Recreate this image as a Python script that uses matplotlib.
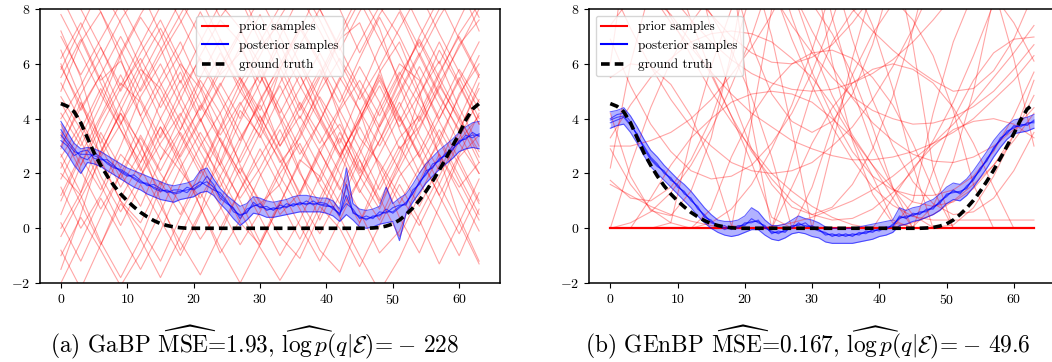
import numpy as np
import matplotlib
matplotlib.use("Agg")
import matplotlib.pyplot as plt
from matplotlib.lines import Line2D

plt.rcParams["font.family"] = "serif"
plt.rcParams["font.serif"] = ["cmr10", "DejaVu Serif"]
plt.rcParams["mathtext.fontset"] = "cm"
plt.rcParams["axes.formatter.use_mathtext"] = True

# sample grid (prior curves read every 3 steps, posterior every step)
x_prior = np.arange(0, 64, 3)
x_post = np.arange(64)

ground_truth = [4.55, 4.45, 4.25, 3.85, 3.3, 2.75, 2.3, 1.9, 1.55, 1.25, 1.0, 0.78, 0.58, 0.42, 0.28, 0.17,
                0.1, 0.05, 0.02, 0, 0, 0, 0, 0, 0, 0, 0, 0, 0, 0, 0, 0,
                0, 0, 0, 0, 0, 0, 0, 0, 0, 0, 0, 0, 0, 0, 0, 0.01,
                0.03, 0.08, 0.16, 0.3, 0.5, 0.74, 1.02, 1.35, 1.72, 2.12, 2.55, 3.0, 3.45, 3.95, 4.35, 4.55]

# (a) GaBP
prior_gabp = [
    [7.2, 5.5, 3.0, 1.5, 2.8, 4.6, 6.0, 5.1, 3.2, 2.0, 3.5, 5.8, 7.4, 6.1, 4.0, 2.2, 1.0, 2.5, 4.8, 6.5, 5.2, 3.8],
    [-1.5, 0.5, 2.8, 4.2, 3.1, 1.0, -0.8, 0.6, 2.9, 4.5, 5.6, 4.0, 2.1, 0.3, 1.8, 3.9, 5.7, 6.8, 5.0, 2.6, 0.4, -1.2],
    [5.0, 6.8, 7.9, 6.2, 4.1, 2.5, 3.6, 5.4, 4.2, 2.3, 0.9, 1.6, 3.4, 5.2, 6.9, 7.5, 5.8, 3.6, 2.0, 3.1, 4.9, 6.0],
    [2.0, 1.2, -0.5, -1.8, -0.4, 1.5, 3.2, 4.4, 5.9, 7.2, 6.0, 4.1, 2.7, 3.9, 5.5, 4.3, 2.1, 0.4, -0.9, 0.8, 2.6, 3.4],
    [4.2, 3.0, 4.5, 6.3, 7.7, 6.6, 4.8, 3.3, 1.7, 0.2, -0.6, 0.9, 2.5, 1.9, 0.6, 1.8, 3.7, 5.3, 7.0, 8.4, 6.9, 5.5],
    [0.5, 2.3, 4.0, 5.3, 4.6, 3.0, 2.1, 1.1, 2.4, 4.3, 3.4, 1.9, 0.7, -0.8, -1.6, 0.2, 2.0, 3.3, 4.1, 2.7, 1.5, 2.4],
    [6.5, 4.7, 2.6, 3.8, 5.5, 6.9, 8.3, 7.0, 5.6, 6.4, 7.8, 6.2, 4.5, 3.1, 4.4, 5.9, 4.6, 2.9, 3.7, 5.1, 6.7, 7.6],
    [3.0, 4.4, 5.6, 3.9, 2.2, 0.8, -0.5, -1.7, -0.2, 1.4, 2.6, 3.8, 5.1, 6.4, 5.0, 3.3, 2.4, 1.2, 0.1, 1.6, 3.2, 4.1],
    [1.5, 0.0, 1.2, 2.7, 1.9, 3.4, 5.0, 6.2, 4.9, 3.5, 2.0, 0.5, 1.3, 2.9, 3.8, 2.5, 0.9, 2.2, 3.6, 5.2, 4.0, 2.8],
    [8.5, 7.0, 5.4, 6.1, 4.7, 3.3, 4.7, 6.3, 7.6, 6.8, 4.9, 3.0, 4.1, 2.8, 1.4, 2.9, 4.5, 6.0, 5.4, 3.9, 2.5, 1.0],
    [-0.8, -2.2, -0.6, 1.1, 2.4, 3.7, 2.5, 0.8, -0.9, 0.3, 1.9, 3.2, 4.6, 3.4, 2.0, 0.6, -0.9, -0.1, 1.7, 0.4, -1.0, 0.7],
    [4.8, 3.6, 1.9, 0.6, 1.9, 3.1, 4.2, 2.8, 1.5, 3.1, 4.7, 5.9, 4.3, 5.6, 7.1, 8.6, 7.3, 5.2, 3.4, 2.1, 3.5, 5.3],
    [2.6, 3.8, 2.4, 1.0, 0.2, 1.7, 0.5, 2.1, 3.7, 5.3, 6.6, 7.5, 6.0, 4.4, 3.0, 1.4, 0.3, 1.9, 2.8, 4.3, 5.8, 4.6],
    [5.8, 7.3, 8.8, 7.5, 5.9, 4.4, 5.7, 4.0, 2.3, 1.1, 2.2, 3.6, 2.0, 0.9, 2.5, 4.2, 5.6, 4.0, 2.6, 1.2, -0.2, 1.3],
    [0.0, 1.3, 3.5, 2.2, 3.8, 5.2, 6.4, 7.9, 6.5, 5.0, 3.9, 2.4, 3.3, 4.8, 3.6, 2.0, 3.2, 4.9, 6.3, 7.7, 8.9, 7.2],
    [3.5, 2.1, 0.7, 2.0, 3.3, 2.0, 0.9, -0.4, 0.7, 2.2, 1.0, -0.3, -1.1, 0.5, 2.3, 3.7, 2.3, 0.9, 2.2, 3.6, 2.3, 0.9],
    [7.8, 6.4, 4.9, 3.6, 2.4, 4.0, 5.4, 3.9, 5.2, 6.6, 5.3, 7.0, 8.5, 7.2, 5.8, 4.3, 3.0, 4.4, 5.9, 4.5, 3.1, 2.0],
    [1.0, 2.6, 1.4, 3.0, 4.8, 6.0, 4.5, 3.1, 1.9, 0.6, -0.7, -1.9, -0.7, 0.8, 0.0, -1.4, 0.1, 1.6, 0.3, -1.3, 0.2, 1.8],
    [4.0, 5.2, 6.6, 5.0, 6.4, 7.6, 6.1, 4.6, 3.4, 4.6, 3.3, 4.8, 6.1, 4.7, 3.1, 4.9, 6.6, 7.9, 6.3, 4.8, 3.6, 5.1],
    [2.4, 0.9, -0.6, 0.9, 0.0, -1.2, 0.4, 1.8, 3.3, 2.0, 0.7, 2.2, 3.6, 5.0, 6.2, 5.0, 3.5, 2.1, 0.8, 2.3, 4.0, 5.6],
    [6.0, 4.3, 5.6, 7.0, 5.6, 4.0, 2.6, 3.9, 5.3, 4.0, 5.8, 4.4, 2.9, 1.7, 3.3, 1.9, 0.7, 2.4, 4.0, 5.6, 7.1, 8.2],
    [3.3, 4.9, 6.2, 7.6, 8.7, 7.1, 5.3, 6.8, 8.2, 7.3, 5.6, 4.2, 5.6, 4.0, 2.7, 3.9, 5.2, 3.7, 4.9, 6.1, 4.4, 3.0],
    [-2.0, -0.5, 1.1, -0.2, -1.5, -0.1, 1.6, 3.0, 4.2, 5.5, 4.1, 2.8, 1.2, 2.7, 4.3, 5.4, 4.1, 5.6, 6.8, 5.3, 3.9, 2.4],
    [5.3, 3.9, 2.7, 4.3, 5.8, 5.1, 3.6, 5.0, 6.4, 5.2, 3.7, 2.5, 1.0, -0.2, 1.2, 2.7, 4.3, 5.7, 4.5, 3.2, 1.7, 0.3],
    [2.9, 4.6, 3.3, 1.8, 3.4, 2.1, 3.5, 2.2, 0.8, -0.6, 0.6, 2.0, 3.1, 1.6, 0.4, -1.0, -2.3, -1.1, 0.5, 1.9, 3.3, 4.7],
    [9.0, 8.0, 6.6, 5.2, 6.7, 8.1, 9.3, 8.4, 6.9, 5.5, 4.3, 5.8, 7.2, 8.8, 8.0, 6.4, 7.8, 8.9, 7.4, 6.0, 7.6, 9.1],
    [6.2, 7.5, 6.0, 4.4, 3.0, 1.6, 2.9, 4.5, 3.2, 1.8, 0.4, -1.0, 0.3, 1.9, 3.5, 2.1, 3.8, 5.4, 6.9, 5.5, 4.1, 2.6],
    [1.8, 3.3, 4.9, 6.4, 7.8, 9.0, 7.6, 6.1, 4.7, 3.2, 4.6, 6.0, 7.3, 6.0, 4.6, 6.2, 7.7, 6.3, 4.8, 3.3, 1.9, 0.5],
    [-1.0, 0.4, -0.8, -2.1, -0.9, 0.6, 2.2, 3.5, 2.3, 3.9, 5.3, 6.7, 5.2, 3.9, 5.4, 6.8, 8.1, 7.0, 5.5, 4.0, 5.4, 6.8],
    [7.0, 5.6, 6.9, 8.2, 6.8, 5.3, 3.9, 2.4, 1.0, 2.6, 4.1, 2.7, 1.3, 2.8, 1.5, 0.2, 1.6, 3.0, 1.7, 3.3, 4.8, 6.3],
    [3.8, 2.3, 3.7, 5.1, 6.2, 4.8, 3.4, 2.0, 3.6, 5.0, 6.3, 7.7, 8.9, 7.6, 6.1, 4.7, 5.9, 7.3, 8.6, 7.1, 5.7, 4.3],
    [0.2, -1.2, 0.4, 2.0, 0.8, 2.5, 4.1, 5.5, 6.9, 5.4, 3.9, 5.2, 3.6, 2.2, 0.9, 2.5, 1.1, -0.3, 1.2, 2.7, 1.3, -0.1],
    [5.5, 6.9, 5.3, 3.8, 5.1, 6.5, 7.8, 9.1, 7.7, 8.7, 7.1, 5.6, 4.0, 5.5, 6.9, 8.3, 6.9, 5.4, 3.9, 5.3, 6.6, 8.0],
    [2.2, 3.6, 5.1, 3.6, 2.1, 3.7, 2.3, 0.8, -0.7, -2.0, -0.6, 0.9, 2.4, 3.9, 2.6, 4.0, 5.5, 4.1, 2.7, 1.2, 2.7, 4.2],
    [4.6, 3.2, 1.6, 0.1, 1.6, 0.3, -1.0, 0.5, 1.9, 3.3, 4.5, 3.0, 4.4, 5.8, 4.3, 2.9, 1.4, 2.8, 4.2, 5.7, 7.0, 5.6],
    [8.0, 9.2, 7.9, 6.5, 5.0, 6.3, 7.5, 8.8, 9.7, 8.4, 6.8, 8.1, 9.3, 8.0, 6.5, 7.9, 9.2, 8.0, 6.6, 8.0, 9.0, 7.7],
    [1.2, 2.7, 4.1, 5.6, 4.1, 5.5, 6.8, 5.2, 3.8, 2.4, 3.8, 5.3, 6.7, 8.0, 6.6, 5.1, 3.7, 5.0, 6.4, 4.9, 3.5, 2.0],
    [-0.3, 1.1, 2.5, 1.0, -0.4, -1.8, -0.3, 1.3, 0.0, 1.4, 2.9, 1.5, 0.1, -1.2, 0.3, 1.8, 3.2, 4.6, 3.1, 1.6, 0.2, -1.3],
    [5.9, 4.5, 3.1, 4.6, 6.0, 7.3, 5.9, 4.3, 5.7, 7.1, 8.4, 7.0, 5.6, 4.1, 2.7, 1.3, 2.7, 4.1, 2.6, 4.0, 5.5, 4.0],
    [2.7, 1.3, 2.8, 4.2, 2.7, 1.3, 2.7, 4.0, 2.5, 1.0, -0.5, 1.0, -0.4, 1.1, 2.6, 4.0, 5.4, 3.9, 5.3, 6.8, 5.3, 3.8],
]

post_gabp = [
    [3.4, 3.1, 2.8, 2.7, 2.7, 2.65, 2.55, 2.4, 2.25, 2.1, 1.95, 1.85, 1.7, 1.6, 1.5, 1.4,
     1.35, 1.3, 1.35, 1.4, 1.45, 1.6, 1.7, 1.5, 1.2, 0.95, 0.7, 0.45, 0.6, 0.85, 0.8, 0.7,
     0.7, 0.75, 0.8, 0.85, 0.9, 0.9, 0.9, 0.88, 0.85, 0.75, 0.5, 1.2, 0.6, 0.4, 0.35, 0.4,
     0.5, 0.6, 0.6, 0.8, 0.9, 1.3, 1.65, 2.0, 2.25, 2.5, 2.7, 2.9, 3.15, 3.3, 3.4, 3.4],
    [3.9, 3.5, 3.1, 2.9, 2.95, 2.9, 2.8, 2.65, 2.5, 2.35, 2.2, 2.1, 2.0, 1.9, 1.8, 1.7,
     1.6, 1.55, 1.6, 1.65, 1.75, 2.1, 2.2, 1.8, 1.45, 1.2, 1.0, 0.8, 0.9, 1.15, 1.1, 1.0,
     0.95, 1.0, 1.05, 1.15, 1.2, 1.2, 1.15, 1.1, 1.1, 1.0, 0.7, 2.2, 0.9, 0.7, 0.65, 0.7,
     0.8, 1.5, 0.9, 1.1, 1.25, 1.6, 2.0, 2.35, 2.6, 2.85, 3.05, 3.25, 3.5, 3.7, 3.85, 3.9],
    [3.0, 2.7, 2.3, 2.0, 2.4, 2.35, 2.25, 2.1, 1.95, 1.8, 1.65, 1.5, 1.4, 1.25, 1.15, 1.05,
     1.0, 0.95, 1.05, 1.1, 1.15, 1.3, 1.35, 1.2, 0.9, 0.65, 0.35, 0.1, 0.3, 0.55, 0.5, 0.4,
     0.4, 0.45, 0.5, 0.55, 0.6, 0.6, 0.6, 0.6, 0.55, 0.45, 0.25, 0.5, 0.3, 0.05, 0.0, 0.05,
     0.15, 0.2, 0.25, -0.45, 0.55, 0.95, 1.3, 1.65, 1.9, 2.15, 2.35, 2.55, 2.8, 2.9, 2.95, 2.9],
    [3.6, 3.2, 2.9, 2.6, 2.5, 2.75, 2.6, 2.35, 2.2, 2.15, 2.0, 1.8, 1.65, 1.65, 1.45, 1.35,
     1.4, 1.25, 1.3, 1.5, 1.4, 1.55, 1.9, 1.6, 1.1, 0.9, 0.75, 0.35, 0.7, 0.8, 0.9, 0.65,
     0.75, 0.7, 0.9, 0.8, 0.95, 0.85, 1.0, 0.85, 0.8, 0.8, 0.45, 1.6, 0.55, 0.45, 0.3, 0.45,
     0.45, 0.7, 0.55, 0.75, 0.95, 1.25, 1.7, 1.95, 2.35, 2.45, 2.75, 2.85, 3.2, 3.25, 3.5, 3.35],
    [3.2, 3.0, 2.65, 2.8, 2.85, 2.55, 2.5, 2.5, 2.3, 2.05, 1.9, 1.95, 1.75, 1.55, 1.6, 1.45,
     1.3, 1.4, 1.4, 1.3, 1.55, 1.7, 1.55, 1.4, 1.3, 1.0, 0.6, 0.5, 0.55, 0.95, 0.75, 0.8,
     0.65, 0.85, 0.75, 0.9, 0.85, 1.0, 0.85, 0.95, 0.9, 0.7, 0.55, 0.9, 0.7, 0.35, 0.45, 0.35,
     0.6, 0.55, 0.75, 0.85, 0.85, 1.4, 1.6, 2.1, 2.2, 2.55, 2.65, 3.0, 3.1, 3.4, 3.3, 3.45],
]

# (b) GEnBP
prior_genbp = [
    [12.2, 10.8, 9.6, 8.5, 7.6, 6.8, 6.15, 5.65, 5.3, 5.07, 5.0, 5.07, 5.3, 5.65, 6.15, 6.8, 7.6, 8.5, 9.6, 10.8, 12.2, 13.7],
    [8.9, 7.3, 5.9, 4.7, 3.7, 3.0, 2.4, 2.1, 2.0, 2.1, 2.4, 3.0, 3.7, 4.7, 5.9, 7.3, 8.9, 10.7, 12.8, 15.0, 17.5, 20.0],
    [25.0, 22.0, 19.8, 17.5, 15.4, 13.4, 11.6, 10.0, 8.6, 7.4, 6.4, 5.5, 4.8, 4.3, 4.0, 3.8, 3.84, 4.05, 4.44, 5.0, 5.8, 6.7],
    [0, 0, 0, 0.2, 3.3, 5.9, 8.0, 9.5, 10.5, 11.0, 10.9, 10.25, 9.1, 7.4, 5.1, 2.3, 0, 0, 0, 0, 0, 0],
    [2.9, 1.6, 0.7, 0.2, 0, 0.2, 0.7, 1.6, 2.9, 4.5, 6.5, 8.8, 11.5, 14.0, 17.0, 21.0, 25.0, 29.0, 34.0, 39.0, 44.0, 50.0],
    [20.0, 20.0, 20.0, 20.0, 20.0, 20.0, 20.0, 20.0, 20.0, 16.1, 12.6, 9.5, 6.9, 4.7, 3.0, 1.7, 0.9, 0.5, 0.6, 1.1, 2.1, 3.5],
    [0, 0, 0, 0, 0, 0, 0, 0, 0, 0, 1.5, 3.7, 5.6, 7.1, 8.2, 9.0, 9.4, 9.5, 9.2, 8.5, 7.5, 6.1],
    [7.4, 8.4, 8.9, 9.0, 8.6, 7.8, 6.5, 4.8, 2.6, 0, 0, 0, 0, 0, 0, 0, 0, 0, 0, 0, 0, 0],
    [11.2, 9.9, 8.6, 7.5, 6.6, 5.7, 4.9, 4.2, 3.7, 3.2, 2.9, 2.65, 2.5, 2.5, 2.6, 2.8, 3.1, 3.5, 4.0, 4.7, 5.4, 6.3],
    [1.6, 1.2, 0.8, 0.5, 0.26, 0.1, 0.02, 0.0, 0.06, 0.2, 0.4, 0.7, 1.0, 1.4, 1.9, 2.5, 3.1, 3.8, 4.6, 5.5, 6.4, 7.4],
    [0, 0, 0, 0, 0, 0, 0, 0, 0, 2.6, 5.0, 6.8, 7.9, 8.5, 8.4, 7.6, 6.3, 4.3, 1.6, 0, 0, 0],
    [1.75, 1.1, 1.0, 1.5, 2.5, 4.0, 6.1, 8.7, 11.8, 15.0, 19.0, 23.0, 27.0, 32.0, 37.0, 42.0, 48.0, 54.0, 60.0, 66.0, 73.0, 80.0],
    [40.0, 35.0, 30.0, 26.0, 22.0, 18.5, 15.5, 12.6, 10.0, 7.7, 5.7, 4.1, 2.8, 1.9, 1.4, 1.2, 1.2, 1.4, 1.9, 2.8, 4.1, 5.7],
    [3.3, 4.5, 5.5, 6.2, 6.8, 7.1, 7.2, 7.1, 6.8, 6.2, 5.5, 4.5, 3.3, 1.9, 0.3, 0, 0, 0, 0, 0, 0, 0],
    [17.6, 14.7, 12.1, 9.7, 7.6, 5.7, 4.1, 2.8, 1.8, 1.0, 0.5, 0.3, 0.36, 0.7, 1.3, 2.1, 3.2, 4.6, 6.3, 8.2, 10.4, 12.9],
    [0, 0, 0, 0, 0, 0, 0, 0, 0, 0, 0, 0, 0, 0, 0, 1.0, 4.2, 6.8, 8.6, 9.6, 10.0, 9.6],
    [40.0, 30.0, 23.0, 18.0, 13.0, 11.0, 10.0, 10.0, 10.0, 10.0, 9.8, 6.05, 3.2, 1.25, 0.2, 0.05, 0.8, 2.45, 5.0, 8.45, 12.0, 17.0],
    [0, 0, 0, 0, 0, 0.7, 2.6, 4.1, 5.2, 6.0, 6.4, 6.5, 6.2, 5.5, 4.5, 3.1, 1.4, 0, 0, 0, 0, 0],
    [3.0, 3.0, 3.2, 3.5, 4.0, 4.7, 5.6, 6.6, 7.8, 9.3, 11.0, 13.0, 15.0, 17.0, 20.0, 23.0, 26.0, 29.0, 32.0, 36.0, 40.0, 44.0],
    [2.2, 6.0, 8.8, 10.8, 11.8, 12.0, 11.2, 9.6, 7.0, 3.6, 0, 0, 0, 0, 0, 0, 0, 0, 0, 0, 0, 0],
    [80.0, 70.0, 60.0, 50.0, 40.0, 32.0, 25.0, 19.0, 14.0, 11.5, 10.0, 9.0, 8.0, 7.2, 6.5, 5.9, 5.4, 5.0, 5.1, 5.75, 6.9, 8.6],
    [12.8, 11.0, 9.2, 7.7, 6.3, 5.0, 3.9, 2.9, 2.0, 1.35, 0.8, 0.4, 0.13, 0.0, 0.03, 0.2, 0.5, 1.0, 1.6, 2.3, 3.2, 4.2],
    [0, 0, 0, 0, 0, 0, 0, 0, 0, 0, 0, 0, 0, 0, 1.1, 2.2, 3.0, 3.6, 3.9, 4.0, 3.8, 3.3],
    [0, 2.3, 4.4, 6.1, 7.5, 8.5, 9.2, 9.5, 9.4, 9.0, 8.2, 7.1, 5.6, 3.7, 1.5, 0, 0, 0, 0, 0, 0, 0],
    [0.0, 0.2, 0.6, 1.3, 2.3, 3.6, 5.2, 7.0, 9.2, 11.5, 14.0, 17.0, 20.0, 23.0, 27.0, 31.0, 35.0, 39.0, 44.0, 49.0, 54.0, 60.0],
    [35.0, 30.0, 26.0, 22.0, 19.0, 16.0, 13.5, 11.2, 8.9, 6.9, 5.2, 3.7, 2.5, 1.5, 0.84, 0.43, 0.3, 0.3, 0.3, 0.3, 0.3, 0.3],
    [0, 0, 0, 0, 0, 0, 0, 3.9, 8.0, 11.1, 13.0, 13.9, 13.8, 12.5, 10.2, 6.7, 2.2, 0, 0, 0, 0, 0],
    [6.9, 5.2, 3.8, 2.8, 2.1, 1.8, 1.9, 2.3, 3.1, 4.2, 5.7, 7.6, 9.8, 12.4, 15.0, 18.0, 22.0, 26.0, 30.0, 34.0, 39.0, 44.0],
    [40.0, 35.0, 30.0, 25.0, 21.0, 17.0, 14.7, 12.5, 10.5, 8.7, 7.2, 5.9, 4.75, 3.85, 3.2, 2.7, 2.45, 2.4, 2.6, 3.0, 3.6, 4.4],
    [0, 0, 0, 0, 0, 0, 0, 0, 0, 0, 0, 3.0, 6.2, 8.8, 10.6, 11.6, 12.0, 11.6, 10.6, 8.8, 6.2, 3.0],
    [16.0, 13.9, 12.0, 10.3, 8.9, 7.8, 7.0, 6.4, 6.06, 6.0, 6.24, 6.7, 7.5, 8.5, 9.8, 11.4, 13.3, 15.4, 17.8, 20.0, 23.0, 26.0],
    [5.5, 6.0, 5.9, 5.25, 4.1, 2.4, 0.1, 0, 0, 0, 0, 0, 0, 0, 0, 0, 0, 0, 0, 0, 0, 0],
    [4.2, 1.9, 0.64, 0.46, 1.36, 3.3, 6.4, 10.5, 15.0, 20.0, 26.0, 33.0, 40.0, 48.0, 56.0, 65.0, 75.0, 85.0, 96.0, 108.0, 120.0, 133.0],
    [0, 0, 1.1, 2.3, 3.3, 4.0, 4.6, 4.9, 5.0, 4.9, 4.6, 4.0, 3.3, 2.3, 1.1, 0, 0, 0, 0, 0, 0, 0],
    [42.0, 37.0, 32.0, 28.0, 24.0, 20.0, 17.0, 14.0, 11.2, 8.7, 6.6, 4.85, 3.4, 2.3, 1.45, 0.96, 0.8, 0.96, 1.45, 2.3, 3.4, 4.85],
    [0, 0, 0, 0, 0, 0, 0, 0, 0, 0, 0, 0, 0, 0, 0, 0, 2.1, 4.0, 5.4, 6.4, 6.9, 6.98],
    [30.0, 26.0, 22.0, 18.0, 15.0, 12.0, 9.3, 6.7, 4.9, 3.9, 3.5, 3.9, 4.9, 6.7, 9.3, 12.0, 15.0, 18.0, 22.0, 26.0, 30.0, 35.0],
    [6.0, 11.1, 14.4, 15.9, 15.6, 13.5, 9.6, 3.9, 0, 0, 0, 0, 0, 0, 0, 0, 0, 0, 0, 0, 0, 0],
    [100.0, 87.0, 75.0, 64.0, 54.0, 45.0, 36.0, 29.0, 22.0, 16.0, 10.8, 7.7, 5.1, 3.0, 1.47, 0.48, 0.03, 0.12, 0.75, 1.9, 3.4, 5.4],
    [0, 0, 0, 0, 0, 0, 0, 0, 0, 1.5, 3.1, 4.4, 5.3, 5.8, 6.0, 5.8, 5.3, 4.4, 3.1, 1.5, 0, 0],
    [27.0, 22.0, 18.0, 14.0, 10.2, 7.25, 4.8, 2.9, 1.6, 0.77, 0.5, 0.77, 1.6, 2.9, 4.8, 7.25, 10.2, 14.0, 18.0, 22.0, 27.0, 32.0],
    [9.0, 8.9, 8.5, 7.8, 6.8, 5.6, 4.1, 2.4, 0.4, 0, 0, 0, 0, 0, 0, 0, 0, 0, 0, 0, 0, 0],
]
prior_genbp_floor = [0] * 22

post_genbp = [
    [3.95, 4.05, 4.1, 3.8, 3.4, 2.95, 2.55, 2.3, 2.05, 1.8, 1.55, 1.3, 1.05, 0.75, 0.45, 0.25,
     0.08, 0.02, 0.0, 0.05, 0.15, 0.25, 0.25, 0.05, -0.15, -0.15, -0.1, 0.05, 0.15, 0.1, 0.05, -0.05,
     -0.2, -0.25, -0.25, -0.25, -0.25, -0.2, -0.15, -0.1, -0.05, 0.0, 0.1, 0.4, 0.4, 0.5, 0.55, 0.65,
     0.75, 0.95, 1.2, 1.35, 1.3, 1.5, 1.8, 2.15, 2.5, 2.9, 3.25, 3.5, 3.7, 3.75, 3.8, 3.9],
    [4.25, 4.3, 4.4, 4.1, 3.7, 3.25, 2.85, 2.6, 2.3, 2.05, 1.8, 1.6, 1.35, 1.05, 0.75, 0.5,
     0.3, 0.25, 0.25, 0.3, 0.45, 0.75, 0.6, 0.3, 0.1, 0.1, 0.15, 0.3, 0.45, 0.35, 0.3, 0.2,
     0.05, 0.0, 0.0, 0.0, 0.0, 0.05, 0.1, 0.15, 0.2, 0.25, 0.3, 0.75, 0.65, 0.75, 0.8, 0.95,
     1.05, 1.25, 1.5, 1.65, 1.6, 1.8, 2.1, 2.45, 2.8, 3.2, 3.5, 3.75, 3.95, 4.0, 4.05, 4.15],
    [3.65, 3.75, 3.8, 3.5, 3.1, 2.65, 2.25, 2.0, 1.75, 1.5, 1.25, 1.0, 0.75, 0.45, 0.2, 0.0,
     -0.15, -0.25, -0.3, -0.25, -0.15, -0.05, -0.05, -0.25, -0.4, -0.45, -0.35, -0.2, -0.15, -0.2, -0.3, -0.35,
     -0.5, -0.55, -0.55, -0.55, -0.55, -0.5, -0.45, -0.4, -0.3, -0.25, -0.15, 0.1, 0.15, 0.25, 0.3, 0.4,
     0.5, 0.65, 0.9, 1.05, 1.0, 1.2, 1.5, 1.85, 2.2, 2.6, 2.95, 3.25, 3.45, 3.5, 3.55, 3.65],
    [4.0, 4.15, 4.2, 3.9, 3.35, 3.0, 2.6, 2.35, 2.0, 1.85, 1.5, 1.35, 1.0, 0.8, 0.4, 0.3,
     0.05, 0.1, -0.05, 0.1, 0.1, 0.35, 0.2, 0.1, -0.2, -0.1, -0.15, 0.1, 0.1, 0.2, 0.0, -0.1,
     -0.15, -0.3, -0.2, -0.3, -0.2, -0.25, -0.1, -0.15, 0.0, -0.05, 0.15, 0.35, 0.45, 0.45, 0.6, 0.6,
     0.8, 0.9, 1.25, 1.3, 1.35, 1.45, 1.85, 2.1, 2.55, 2.85, 3.3, 3.45, 3.75, 3.7, 3.85, 3.85],
    [3.85, 3.95, 4.05, 3.75, 3.45, 2.9, 2.5, 2.25, 2.1, 1.75, 1.6, 1.25, 1.1, 0.7, 0.5, 0.2,
     0.1, -0.05, 0.05, 0.0, 0.2, 0.2, 0.3, 0.0, -0.1, -0.2, -0.05, 0.0, 0.2, 0.05, 0.1, -0.05,
     -0.25, -0.2, -0.3, -0.2, -0.3, -0.15, -0.2, -0.05, -0.1, 0.05, 0.05, 0.45, 0.35, 0.55, 0.5, 0.7,
     0.7, 1.0, 1.15, 1.4, 1.25, 1.55, 1.75, 2.2, 2.45, 2.95, 3.2, 3.55, 3.65, 3.8, 3.75, 3.95],
]

captions = [
    r"(a) GaBP $\widehat{\mathrm{MSE}}$=1.93, $\widehat{\log p}(q|\mathcal{E})\!=\!-\,228$",
    r"(b) GEnBP $\widehat{\mathrm{MSE}}$=0.167, $\widehat{\log p}(q|\mathcal{E})\!=\!-\,49.6$",
]
caption_x = [0.2415, 0.768]


def draw_panel(ax, prior, post, floor=None):
    for row in prior:
        ax.plot(x_prior, row, color="red", lw=0.8, alpha=0.35)
    if floor is not None:
        ax.plot(x_prior, floor, color="red", lw=1.6)
    post = np.array(post)
    ax.fill_between(x_post, post.min(axis=0), post.max(axis=0), color="blue", alpha=0.3, lw=0)
    for row in post:
        ax.plot(x_post, row, color="blue", lw=0.8, alpha=0.6)
    ax.plot(x_post, ground_truth, color="black", lw=2.6, linestyle=(0, (2.4, 1.4)))
    ax.set_ylim(-2, 8)
    ax.set_xlim(-3.15, 66.15)
    ax.set_xticks([0, 10, 20, 30, 40, 50, 60])
    ax.set_yticks([-2, 0, 2, 4, 6, 8])
    ax.tick_params(labelsize=10)
    for s in ax.spines.values():
        s.set_linewidth(1.1)


fig = plt.figure(figsize=(10.52, 3.62), dpi=100)
ax1 = fig.add_axes([0.038, 0.218, 0.4373, 0.757])
ax2 = fig.add_axes([0.560, 0.218, 0.443, 0.757])

draw_panel(ax1, prior_gabp, post_gabp)
draw_panel(ax2, prior_genbp, post_genbp, floor=prior_genbp_floor)

handles = [Line2D([], [], color="red", lw=1.5),
           Line2D([], [], color="blue", lw=1.5),
           Line2D([], [], color="black", lw=2.6, linestyle=(0, (2.4, 1.4)))]
labels = ["prior samples", "posterior samples", "ground truth"]
ax1.legend(handles, labels, loc="upper center", fontsize=9.5)
ax2.legend(handles, labels, loc="upper left", fontsize=9.5)

for cx, cap in zip(caption_x, captions):
    fig.text(cx, 0.055, cap, ha="center", va="center", fontsize=16.8)

fig.savefig("out.png", dpi=100)
